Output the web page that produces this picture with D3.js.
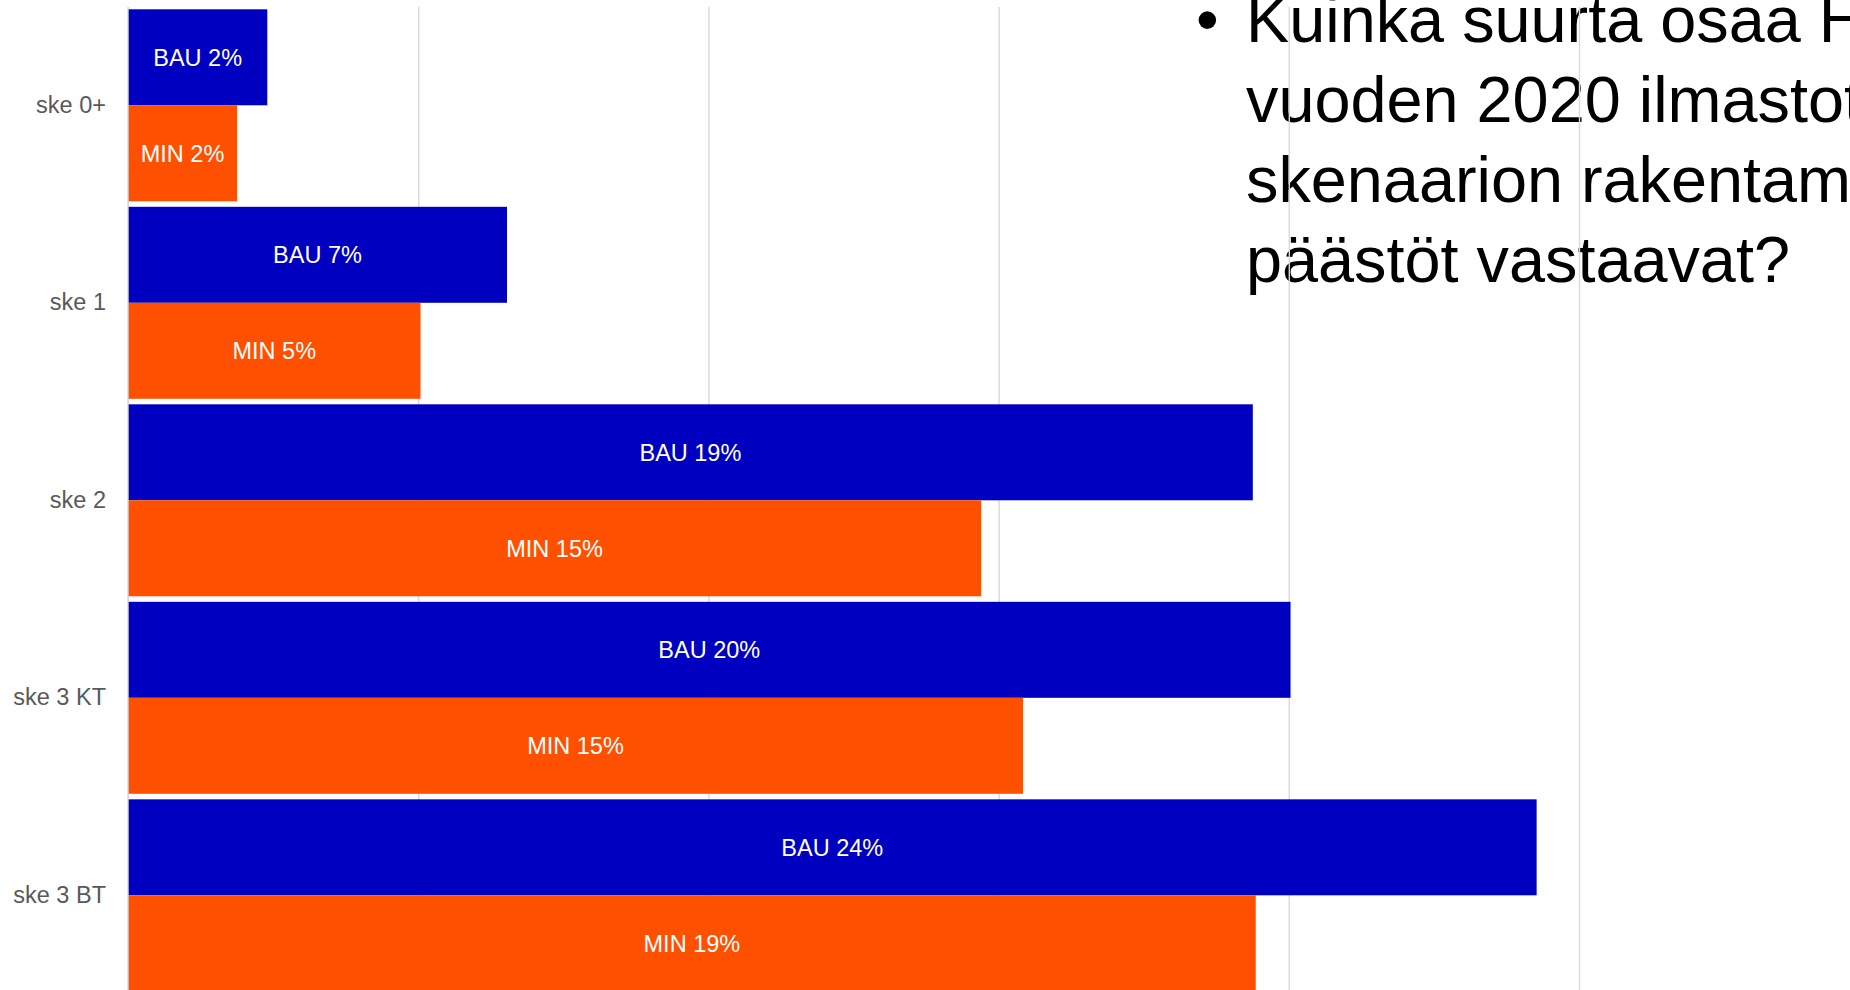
<!DOCTYPE html>
<html>
<head>
<meta charset="utf-8">
<script src="https://cdn.jsdelivr.net/npm/d3@7"></script>
<style>
  html, body { margin: 0; padding: 0; background: #ffffff; overflow: hidden; }
  svg { display: block; }
</style>
</head>
<body>
<div id="chart"></div>
<script>
// ---- data ----
const categories = ["ske 0+", "ske 1", "ske 2", "ske 3 KT", "ske 3 BT"];
const seriesNames = ["BAU", "MIN"];
const bauValues = [2.4, 6.53, 19.38, 20.03, 24.27];
const minValues = [1.88, 5.04, 14.70, 15.42, 19.43];
const bauLabels = ["BAU 2%", "BAU 7%", "BAU 19%", "BAU 20%", "BAU 24%"];
const minLabels = ["MIN 2%", "MIN 5%", "MIN 15%", "MIN 15%", "MIN 19%"];
const xTicks = [0, 5, 10, 15, 20, 25];
const titleLines = [
  "Kuinka suurta osaa Helsingin",
  "vuoden 2020 ilmastotavoitteesta",
  "skenaarion rakentamisen",
  "päästöt vastaavat?"
];

const W = 1850, H = 990;
const colors = { BAU: "#0000c0", MIN: "#ff5000" };
const font = "'Liberation Sans', Arial, Helvetica, sans-serif";

const svg = d3.select("#chart").append("svg")
  .attr("width", W).attr("height", H);

const x = d3.scaleLinear().domain([0, 25]).range([128, 1579]);
const y = d3.scaleBand().domain(categories).range([9.3, 991.3])
  .paddingInner(0.028).paddingOuter(0);
const ySub = d3.scaleBand().domain(seriesNames).range([0, y.bandwidth()]);

// title text (bullet)
const title = svg.append("g");
title.append("text")
  .attr("x", 1196).attr("y", 41.7)
  .attr("font-family", font).attr("font-size", 64.8).attr("fill", "#000")
  .text("•");
title.selectAll("text.line").data(titleLines).enter().append("text")
  .attr("class", "line")
  .attr("x", 1246)
  .attr("y", (d, i) => 41.7 + i * 80)
  .attr("font-family", font).attr("font-size", 64.8).attr("fill", "#000")
  .text(d => d);

// gridlines
const grid = svg.append("g")
  .attr("transform", "translate(0,7)")
  .call(d3.axisTop(x).tickValues(xTicks).tickSize(-(H - 7)).tickFormat(""));
grid.select(".domain").remove();
grid.selectAll(".tick line").attr("stroke", "#d9d9d9").attr("stroke-width", 1.4);

// rows
const rows = categories.map((c, i) => ({
  cat: c,
  bars: [
    { s: "BAU", v: bauValues[i], label: bauLabels[i] },
    { s: "MIN", v: minValues[i], label: minLabels[i] }
  ]
}));

const g = svg.append("g").selectAll("g").data(rows).enter().append("g")
  .attr("transform", d => `translate(0,${y(d.cat)})`);

g.selectAll("rect").data(d => d.bars).enter().append("rect")
  .attr("x", x(0))
  .attr("y", d => ySub(d.s))
  .attr("width", d => x(d.v) - x(0))
  .attr("height", ySub.bandwidth())
  .attr("fill", d => colors[d.s]);

g.selectAll("text.val").data(d => d.bars).enter().append("text")
  .attr("class", "val")
  .attr("x", d => (x(0) + x(d.v)) / 2)
  .attr("y", d => ySub(d.s) + ySub.bandwidth() / 2)
  .attr("dy", "0.35em")
  .attr("text-anchor", "middle")
  .attr("font-family", font).attr("font-size", 23.5).attr("fill", "#ffffff")
  .text(d => d.label);

// y axis
const yAxis = svg.append("g")
  .attr("transform", `translate(${x(0)},0)`)
  .call(d3.axisLeft(y).tickSize(0).tickPadding(22));
yAxis.select(".domain").remove();
yAxis.selectAll(".tick text")
  .attr("font-family", font).attr("font-size", 23.5).attr("fill", "#595959");
svg.append("line")
  .attr("x1", x(0)).attr("x2", x(0)).attr("y1", 7).attr("y2", H)
  .attr("stroke", "#d9d9d9").attr("stroke-width", 1.4);
</script>
</body>
</html>
